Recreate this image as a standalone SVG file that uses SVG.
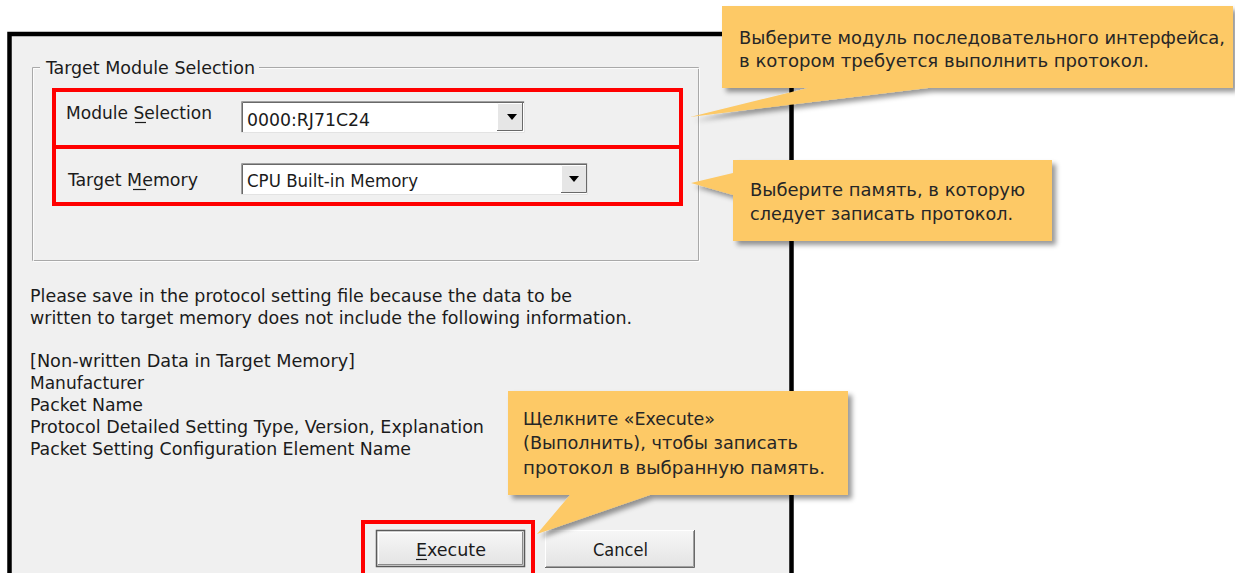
<svg xmlns="http://www.w3.org/2000/svg" width="1235" height="573" viewBox="0 0 1235 573">
  <defs>
    <style>
      .ui{font-family:"DejaVu Sans Condensed","DejaVu Sans",sans-serif;font-size:18px;fill:#1b1b1b}
      .tip{font-family:"DejaVu Sans Condensed","DejaVu Sans",sans-serif;font-size:18px;fill:#262626}
      .hl{fill:none;stroke:#ff0000;stroke-width:4}
      .callout{fill:#fdc966;filter:url(#shadow)}
      .line{fill:none;stroke-width:1}
    </style>
    <filter id="shadow" x="-5%" y="-10%" width="115%" height="135%">
      <feDropShadow dx="4" dy="4" stdDeviation="2.5" flood-color="#000" flood-opacity="0.4"/>
    </filter>
    <linearGradient id="btn" x1="0" y1="0" x2="0" y2="1">
      <stop offset="0" stop-color="#f7f7f7"/>
      <stop offset="1" stop-color="#e3e3e3"/>
    </linearGradient>
  </defs>

  <rect width="1235" height="573" fill="#fff"/>

  <!-- dialog window -->
  <g id="dialog">
    <rect x="9.5" y="34" width="782" height="560" fill="#f0f0f0" stroke="#000" stroke-width="4.5"/>
  </g>

  <!-- group box: Target Module Selection -->
  <g id="group-target">
    <path class="line" d="M40 67.5 H32.5 V260.5 H698.5 V67.5 H259" stroke="#a9a9a9"/>
    <path class="line" d="M40 68.5 H33.5 V261.5 H699.5 V68.5 H259" stroke="#ffffff" opacity="0.8"/>
    <text class="ui" x="46" y="74" textLength="209" lengthAdjust="spacingAndGlyphs">Target Module Selection</text>
  </g>

  <!-- module selection row -->
  <g id="module-selection">
    <text class="ui" x="66" y="119" textLength="146" lengthAdjust="spacingAndGlyphs">Module Selection</text>
    <line x1="135" y1="122.5" x2="146" y2="122.5" stroke="#1b1b1b" stroke-width="1.2"/>
    <rect x="241" y="101" width="284" height="32" fill="#fff"/>
    <path class="line" d="M241.5 133 V101.5 H525" stroke="#a0a0a0"/>
    <path class="line" d="M242.5 132 V102.5 H524" stroke="#696969"/>
    <path class="line" d="M241 132.5 H524.5 V101" stroke="#e3e3e3"/>
    <text class="ui" x="247" y="126" textLength="123" lengthAdjust="spacingAndGlyphs">0000:RJ71C24</text>
    <rect x="497" y="103" width="26" height="28" fill="#e6e6e6"/>
    <path class="line" d="M497.5 131 V103.5 H523" stroke="#ffffff"/>
    <path class="line" d="M497 130.5 H522.5 V103" stroke="#696969"/>
    <polygon points="507,114 517,114 512,120" fill="#000"/>
  </g>

  <!-- target memory row -->
  <g id="target-memory">
    <text class="ui" x="68" y="186" textLength="130" lengthAdjust="spacingAndGlyphs">Target Memory</text>
    <line x1="133" y1="189.5" x2="146" y2="189.5" stroke="#1b1b1b" stroke-width="1.2"/>
    <rect x="241" y="163" width="347" height="32" fill="#fff"/>
    <path class="line" d="M241.5 195 V163.5 H588" stroke="#a0a0a0"/>
    <path class="line" d="M242.5 194 V164.5 H587" stroke="#696969"/>
    <path class="line" d="M241 194.5 H587.5 V163" stroke="#e3e3e3"/>
    <text class="ui" x="247" y="187" textLength="171" lengthAdjust="spacingAndGlyphs">CPU Built-in Memory</text>
    <rect x="561" y="165" width="26" height="28" fill="#e6e6e6"/>
    <path class="line" d="M561.5 193 V165.5 H587" stroke="#ffffff"/>
    <path class="line" d="M561 192.5 H586.5 V165" stroke="#696969"/>
    <polygon points="569,176 579,176 574,182" fill="#000"/>
  </g>

  <!-- information text -->
  <g id="info-text">
    <text class="ui" x="30" y="302" textLength="542" lengthAdjust="spacingAndGlyphs">Please save in the protocol setting file because the data to be</text>
    <text class="ui" x="30" y="324" textLength="602" lengthAdjust="spacingAndGlyphs">written to target memory does not include the following information.</text>
    <text class="ui" x="30" y="367" textLength="325" lengthAdjust="spacingAndGlyphs">[Non-written Data in Target Memory]</text>
    <text class="ui" x="30" y="389" textLength="114" lengthAdjust="spacingAndGlyphs">Manufacturer</text>
    <text class="ui" x="30" y="411" textLength="113" lengthAdjust="spacingAndGlyphs">Packet Name</text>
    <text class="ui" x="30" y="433" textLength="454" lengthAdjust="spacingAndGlyphs">Protocol Detailed Setting Type, Version, Explanation</text>
    <text class="ui" x="30" y="455" textLength="381" lengthAdjust="spacingAndGlyphs">Packet Setting Configuration Element Name</text>
  </g>

  <!-- buttons -->
  <g id="btn-execute">
    <rect x="376.5" y="530.5" width="148" height="36" fill="url(#btn)" stroke="#5a5a5a" stroke-width="1.5"/>
    <path class="line" d="M378.5 564 V532.5 H522" stroke="#ffffff"/>
    <path class="line" d="M378 564.5 H522.5 V532" stroke="#8a8a8a" stroke-width="1.5"/>
    <text class="ui" x="416" y="556" textLength="70" lengthAdjust="spacingAndGlyphs">Execute</text>
    <line x1="416" y1="559.5" x2="427" y2="559.5" stroke="#1b1b1b" stroke-width="1.2"/>
  </g>
  <g id="btn-cancel">
    <rect x="545" y="530" width="150" height="38" fill="url(#btn)"/>
    <path class="line" d="M545.5 568 V530.5 H695" stroke="#ffffff"/>
    <path class="line" d="M545 567.5 H694.5 V530" stroke="#696969"/>
    <path class="line" d="M546 566.5 H693.5 V531" stroke="#a0a0a0"/>
    <text class="ui" x="593" y="556" textLength="55" lengthAdjust="spacingAndGlyphs">Cancel</text>
  </g>

  <!-- red highlight frames -->
  <g id="highlights">
    <rect class="hl" x="54" y="90" width="627" height="114"/>
    <line x1="54" y1="147" x2="681" y2="147" stroke="#ff0000" stroke-width="4"/>
    <path class="hl" d="M363 580 V522 H533 V580"/>
  </g>

  <!-- callouts -->
  <g id="callout-module">
    <path class="callout" d="M722 6 H1233 V88 H928 L690 117 L808 88 H722 Z"/>
    <text class="tip" x="739" y="44" textLength="486" lengthAdjust="spacingAndGlyphs">Выберите модуль последовательного интерфейса,</text>
    <text class="tip" x="739" y="67" textLength="410" lengthAdjust="spacingAndGlyphs">в котором требуется выполнить протокол.</text>
  </g>
  <g id="callout-memory">
    <path class="callout" d="M733 160 H1052 V241 H733 V195 L691 183 L733 173 Z"/>
    <text class="tip" x="750" y="196" textLength="275" lengthAdjust="spacingAndGlyphs">Выберите память, в которую</text>
    <text class="tip" x="750" y="220" textLength="263" lengthAdjust="spacingAndGlyphs">следует записать протокол.</text>
  </g>
  <g id="callout-execute">
    <path class="callout" d="M508 391 H848 V495 H650 L537 534 L570 495 H508 Z"/>
    <text class="tip" x="523" y="425" textLength="192" lengthAdjust="spacingAndGlyphs">Щелкните «Execute»</text>
    <text class="tip" x="523" y="449" textLength="275" lengthAdjust="spacingAndGlyphs">(Выполнить), чтобы записать</text>
    <text class="tip" x="523" y="474" textLength="302" lengthAdjust="spacingAndGlyphs">протокол в выбранную память.</text>
  </g>
</svg>
